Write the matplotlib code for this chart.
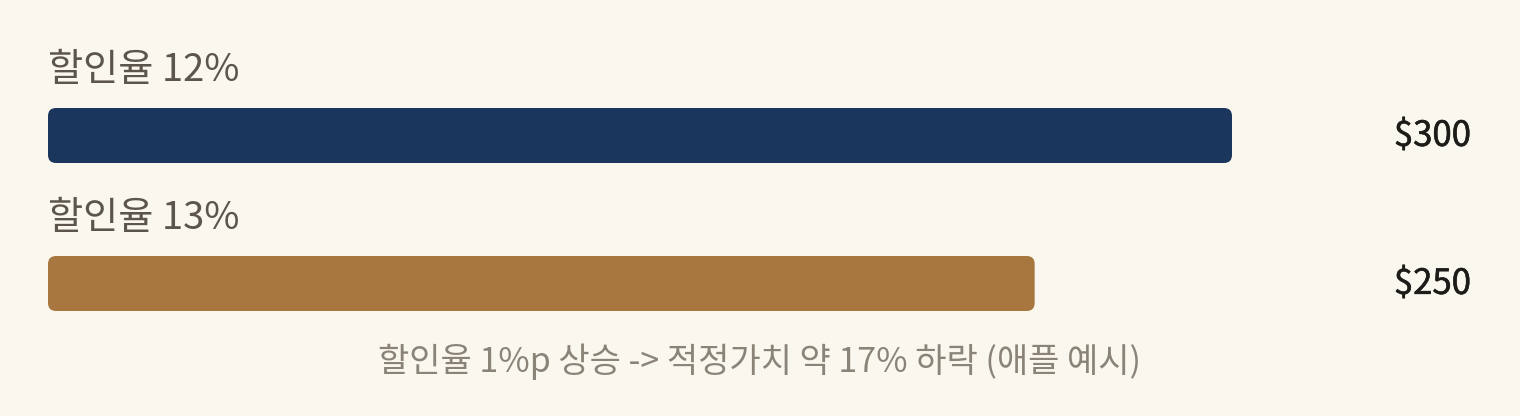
import matplotlib
matplotlib.use("Agg")
import matplotlib.pyplot as plt
import matplotlib.patheffects as pe
from matplotlib.patches import FancyBboxPatch

plt.rcParams['font.family'] = ['Noto Sans CJK KR', 'DejaVu Sans']

labels = ["할인율 12%", "할인율 13%"]
values = [300, 250]
value_text = ["$300", "$250"]
colors = ["#1B365D", "#A8773F"]
caption = "할인율 1%p 상승 -> 적정가치 약 17% 하락 (애플 예시)"

BG = "#FAF7EF"
W, H = 1520, 416
fig = plt.figure(figsize=(W / 100, H / 100), dpi=100, facecolor=BG)

# axes: x from 48px to 1232px covers 0..300
x0, x1 = 48, 1232
ax = fig.add_axes([x0 / W, 0, (x1 - x0) / W, 1])
ax.set_facecolor("none")
ax.set_xlim(0, 300)
step = 148.0
c0 = 135.5
ax.set_ylim(1 + (H - (c0 + step)) / step, -c0 / step)
ax.axis("off")

ux = 300 / (x1 - x0)       # data units per px along x
uy = 1 / step              # data units per px along y
bar_h = 55 * uy
r = 8 * ux

for i, (lab, v, vt, c) in enumerate(zip(labels, values, value_text, colors)):
    p = FancyBboxPatch((0, i - bar_h / 2), v, bar_h,
                       boxstyle=f"round,pad=0,rounding_size={r}",
                       mutation_aspect=uy / ux, fc=c, ec="none")
    ax.add_patch(p)
    ax.text(0, i - 0.37, lab, fontsize=27.5, color="#5C554B",
            ha="left", va="baseline")
    ax.text((1471 - x0) * ux, i + 0.07, vt, fontsize=25, color="#1E1C18",
            ha="right", va="baseline", clip_on=False,
            path_effects=[pe.withStroke(linewidth=0.4, foreground="#1E1C18")])

fig.text(0.5, 1 - 372 / H, caption, fontsize=24.5, color="#8A8378",
         ha="center", va="baseline")

fig.savefig("out.png", dpi=100, facecolor=BG)
